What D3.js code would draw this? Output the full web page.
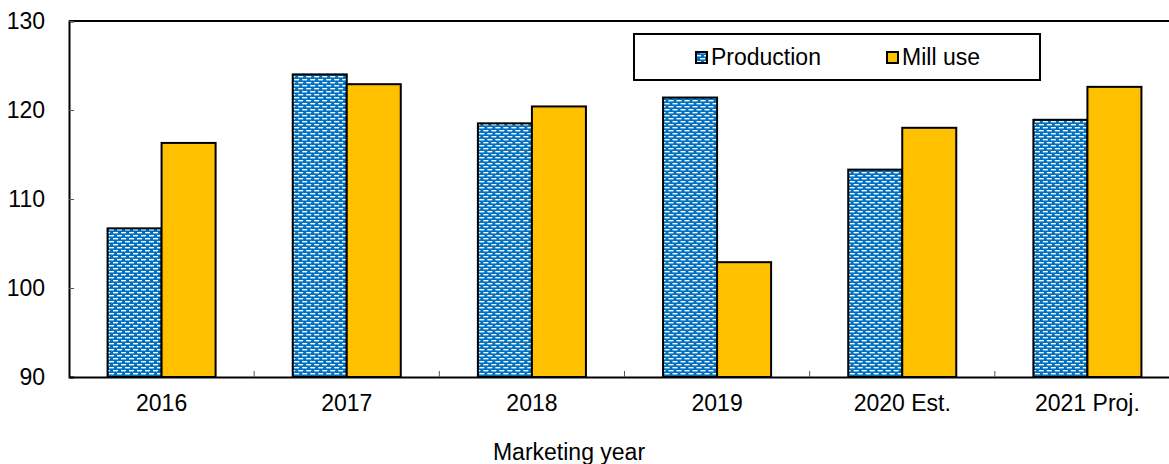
<!DOCTYPE html>
<html>
<head>
<meta charset="utf-8">
<script src="https://cdn.jsdelivr.net/npm/d3@7"></script>
<style>
  body { margin: 0; background: #fff; }
  svg text { font-family: "Liberation Sans", Arial, sans-serif; fill: #000; }
</style>
</head>
<body>
<svg id="chart" width="1169" height="464"></svg>
<script>
var years = ["2016", "2017", "2018", "2019", "2020 Est.", "2021 Proj."];
var production = [106.7, 124.0, 118.5, 121.4, 113.3, 118.9];
var millUse = [116.3, 122.9, 120.4, 102.9, 118.0, 122.6];
var seriesNames = ["Production", "Mill use"];
var yTicks = [90, 100, 110, 120, 130];

var svg = d3.select("#chart");
var plotLeft = 69, plotTop = 21, plotBottom = 377, plotRight = 1180;

// brick-like dash pattern for production bars
var pat = svg.append("defs").append("pattern")
    .attr("id", "prodPat")
    .attr("patternUnits", "userSpaceOnUse")
    .attr("width", 8).attr("height", 6);
pat.append("rect").attr("width", 8).attr("height", 6).attr("fill", "#0070C0");
pat.append("rect").attr("x", 0).attr("y", 1).attr("width", 5).attr("height", 1.4).attr("fill", "#fff");
pat.append("rect").attr("x", 4).attr("y", 4).attr("width", 5).attr("height", 1.4).attr("fill", "#fff");
pat.append("rect").attr("x", -4).attr("y", 4).attr("width", 5).attr("height", 1.4).attr("fill", "#fff");

var fills = {"Production": "url(#prodPat)", "Mill use": "#FFC000"};

var x0 = d3.scaleBand().domain(years).range([plotLeft, plotRight]).padding(0);
var x1 = d3.scaleBand().domain(seriesNames).range([0, x0.bandwidth()])
    .paddingInner(0).paddingOuter(0.714);
var y = d3.scaleLinear().domain([90, 130]).range([plotBottom, plotTop]);

var rows = years.map(function(d, i) {
  return {year: d, vals: [
    {name: "Production", v: production[i]},
    {name: "Mill use", v: millUse[i]}
  ]};
});

// top frame line
svg.append("line")
    .attr("x1", plotLeft).attr("x2", 1169)
    .attr("y1", plotTop).attr("y2", plotTop)
    .attr("stroke", "#000").attr("stroke-width", 2);

svg.append("g").selectAll("g")
    .data(rows)
    .enter().append("g")
    .attr("transform", function(d) { return "translate(" + x0(d.year) + ",0)"; })
    .selectAll("rect")
    .data(function(d) { return d.vals; })
    .enter().append("rect")
    .attr("x", function(d) { return x1(d.name); })
    .attr("y", function(d) { return y(d.v); })
    .attr("width", x1.bandwidth())
    .attr("height", function(d) { return plotBottom - y(d.v); })
    .attr("fill", function(d) { return fills[d.name]; })
    .attr("stroke", "#000")
    .attr("stroke-width", 2);

// y axis
var yAxis = svg.append("g")
    .attr("transform", "translate(" + plotLeft + ",0)")
    .call(d3.axisLeft(y).tickValues(yTicks).tickSize(-5).tickPadding(24));
yAxis.select(".domain").attr("stroke", "#000").attr("stroke-width", 2);
yAxis.selectAll(".tick line").attr("stroke", "#555");
yAxis.selectAll(".tick text")
    .style("font-size", "23px")
    .style("font-family", "Liberation Sans, Arial, sans-serif")
    .attr("fill", "#000");

// x axis with boundary ticks
var xAxis = svg.append("g")
    .attr("transform", "translate(0," + plotBottom + ")")
    .call(d3.axisBottom(x0).tickSize(0).tickPadding(18));
xAxis.select(".domain").attr("stroke", "#000").attr("stroke-width", 2);
xAxis.selectAll(".tick text")
    .style("font-size", "23px")
    .style("font-family", "Liberation Sans, Arial, sans-serif")
    .attr("fill", "#000");
svg.append("g").selectAll("line")
    .data(years.slice(1))
    .enter().append("line")
    .attr("x1", function(d) { return x0(d); })
    .attr("x2", function(d) { return x0(d); })
    .attr("y1", plotBottom).attr("y2", plotBottom - 6)
    .attr("stroke", "#555").attr("stroke-width", 1);

svg.append("text")
    .attr("x", 569).attr("y", 460)
    .attr("text-anchor", "middle")
    .style("font-size", "23px")
    .text("Marketing year");

// legend
var lg = svg.append("g");
lg.append("rect")
    .attr("x", 634).attr("y", 34).attr("width", 406).attr("height", 46)
    .attr("fill", "#fff").attr("stroke", "#000").attr("stroke-width", 2);
var items = lg.selectAll("g.item")
    .data(seriesNames)
    .enter().append("g")
    .attr("class", "item")
    .attr("transform", function(d, i) { return "translate(" + [696, 887][i] + ",0)"; });
items.append("rect")
    .attr("x", 0).attr("y", 52).attr("width", 11).attr("height", 11)
    .attr("fill", function(d) { return fills[d]; })
    .attr("stroke", "#000").attr("stroke-width", 2);
items.append("text")
    .attr("x", 15).attr("y", 65)
    .style("font-size", "23px")
    .text(function(d) { return d; });
</script>
</body>
</html>
